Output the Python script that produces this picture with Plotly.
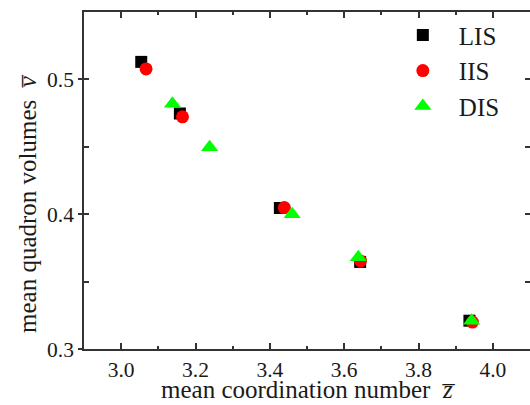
import plotly.graph_objects as go

lis_x = [3.054, 3.158, 3.427, 3.643, 3.937]
lis_y = [0.513, 0.4747, 0.4046, 0.3646, 0.321]
iis_x = [3.067, 3.165, 3.439, 3.644, 3.945]
iis_y = [0.5078, 0.4722, 0.4049, 0.3653, 0.320]
dis_x = [3.138, 3.238, 3.460, 3.638, 3.943]
dis_y = [0.482, 0.4497, 0.400, 0.368, 0.321]

FONT = "Liberation Serif, Times New Roman, serif"

fig = go.Figure()
fig.add_trace(go.Scatter(x=lis_x, y=lis_y, mode="markers", name="LIS",
                         marker=dict(symbol="square", size=12, color="#000000")))
fig.add_trace(go.Scatter(x=iis_x, y=iis_y, mode="markers", name="IIS",
                         marker=dict(symbol="circle", size=13, color="#FF0000")))
fig.add_trace(go.Scatter(x=dis_x, y=dis_y, mode="markers", name="DIS",
                         marker=dict(symbol="triangle-up", size=15, color="#00FF00")))
# invisible trace to activate overlay axis
fig.add_trace(go.Scatter(x=[3.0], y=[0.4], yaxis="y2", mode="markers",
                         marker=dict(opacity=0), showlegend=False, hoverinfo="skip"))

axcol = "#333333"
fig.update_layout(
    width=530, height=405,
    margin=dict(l=84, r=0, t=12, b=56),
    paper_bgcolor="white", plot_bgcolor="white",
    font=dict(family=FONT, size=21, color="#1a1a1a"),
    showlegend=True,
    legend=dict(x=0.679, y=0.999, xanchor="left", yanchor="top",
                font=dict(family=FONT, size=25, color="#1a1a1a"),
                bgcolor="rgba(0,0,0,0)", itemwidth=62, tracegroupgap=0),
    xaxis=dict(range=[2.9, 4.1], tickvals=[3.0, 3.2, 3.4, 3.6, 3.8, 4.0],
               ticktext=["3.0", "3.2", "3.4", "3.6", "3.8", "4.0"],
               ticks="inside", ticklen=6, tickwidth=1.5, tickcolor=axcol,
               minor=dict(tickvals=[3.1, 3.3, 3.5, 3.7, 3.9], ticks="inside",
                          ticklen=3, tickwidth=1.5, tickcolor=axcol),
               showline=True, linewidth=1.5, linecolor=axcol, mirror="ticks",
               showgrid=False, zeroline=False,
               tickfont=dict(family=FONT, size=21.5)),
    yaxis=dict(range=[0.3, 0.55], tickvals=[0.3, 0.4, 0.5],
               ticktext=["0.3", "0.4", "0.5"],
               ticks="outside", ticklen=4, tickwidth=1.5, tickcolor=axcol,
               showline=True, linewidth=1.5, linecolor=axcol, mirror=False,
               showgrid=False, zeroline=False,
               tickfont=dict(family=FONT, size=21.5)),
    yaxis2=dict(range=[0.3, 0.55], overlaying="y", side="left",
                tickvals=[0.3, 0.4, 0.5], showticklabels=False,
                ticks="inside", ticklen=5, tickwidth=1.5, tickcolor=axcol,
                minor=dict(tickvals=[0.35, 0.45], ticks="inside",
                           ticklen=5, tickwidth=1.5, tickcolor=axcol),
                showline=False, mirror="ticks",
                showgrid=False, zeroline=False),
)

fig.add_annotation(text="mean coordination number  <i>z\u0305</i>",
                   xref="paper", yref="paper", x=0.503, y=-0.119,
                   xanchor="center", yanchor="middle", showarrow=False,
                   font=dict(family=FONT, size=25, color="#1a1a1a"))
fig.add_annotation(text="mean quadron volumes  <i>v\u0305</i>",
                   xref="paper", yref="paper", x=-0.128, y=0.43,
                   xanchor="center", yanchor="middle", showarrow=False,
                   textangle=-90,
                   font=dict(family=FONT, size=25, color="#1a1a1a"))

fig.write_html("out.html")
